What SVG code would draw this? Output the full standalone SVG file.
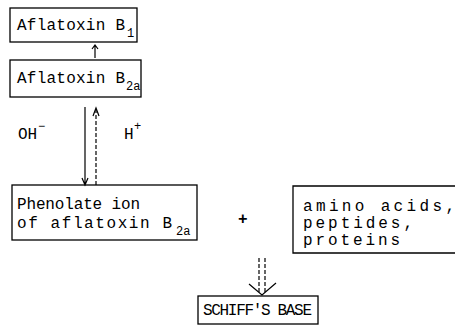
<svg xmlns="http://www.w3.org/2000/svg" width="459" height="326" viewBox="0 0 459 326">
<style>
.box{fill:none;stroke:#000;stroke-width:1.3}
.t{font-family:"Liberation Mono","Courier New",monospace;font-size:16px;fill:#000}
.s{font-family:"Liberation Mono","Courier New",monospace;font-size:12px;fill:#000}
.ln{stroke:#000;stroke-width:1.2;fill:none}
.dl{stroke:#000;stroke-width:1.2;fill:none;stroke-dasharray:4 2}
</style>
<rect width="459" height="326" fill="#fff"/>
<g id="n1">
<rect class="box" x="10" y="8" width="127" height="34"/>
<text class="t" x="17" y="30" textLength="108" lengthAdjust="spacing">Aflatoxin B</text>
<text class="s" x="127" y="37">1</text>
</g>
<g id="n2">
<rect class="box" x="10" y="60" width="131" height="37"/>
<text class="t" x="17" y="83" textLength="108" lengthAdjust="spacing">Aflatoxin B</text>
<text class="s" x="126" y="90">2a</text>
</g>
<g id="n3">
<rect class="box" x="12" y="185" width="185" height="55"/>
<text class="t" x="17" y="209" textLength="123" lengthAdjust="spacing">Phenolate ion</text>
<text class="t" x="17" y="228" textLength="155" lengthAdjust="spacing">of aflatoxin B</text>
<text class="s" x="176" y="235">2a</text>
</g>
<g id="n4">
<path class="box" d="M455 186 H293 V253 H455"/>
<text class="t" x="303" y="211" textLength="152" lengthAdjust="spacing">amino acids,</text>
<text class="t" x="303" y="228" textLength="110" lengthAdjust="spacing">peptides,</text>
<text class="t" x="303" y="245" textLength="97" lengthAdjust="spacing">proteins</text>
</g>
<g id="n5">
<rect class="box" x="198" y="296" width="120" height="28"/>
<text class="t" x="203" y="315" font-size="14" textLength="109" lengthAdjust="spacing">SCHIFF'S BASE</text>
</g>
<g id="connectors">
<path class="ln" d="M95 58 V45 M92 49 L95 45 L98 49"/>
<path class="ln" d="M85 107 V185 M82 178 L85 185 L88 178"/>
<path class="dl" d="M96 185 V110"/>
<path class="ln" d="M93 116 L96 108 L99 116"/>
<path class="dl" d="M259 258 V292 M265 258 V292"/>
<path class="ln" d="M249 284 L262 295 L276 283"/>
</g>
<g id="labels">
<text class="t" x="18" y="139">OH</text>
<text class="s" x="38" y="130" font-size="14">−</text>
<text class="t" x="124" y="139">H</text>
<text class="s" x="134" y="130">+</text>
<text class="t" x="238" y="224" font-weight="bold">+</text>
</g>
</svg>
